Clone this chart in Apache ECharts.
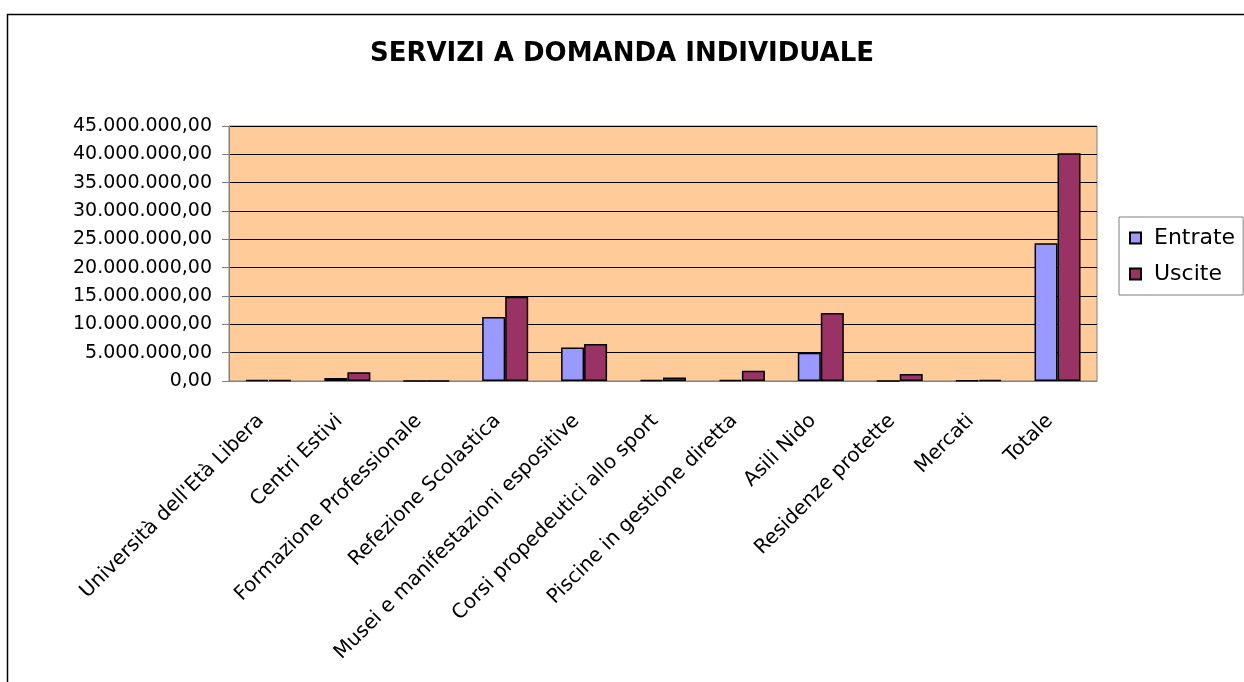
<!DOCTYPE html>
<html>
<head>
<meta charset="utf-8">
<script src="https://cdn.jsdelivr.net/npm/echarts@6/dist/echarts.min.js"></script>
<style>
  html, body { margin: 0; padding: 0; background: #fff; }
  #chart { width: 1244px; height: 682px; }
</style>
</head>
<body>
<div id="chart"></div>
<script>
const categories = [
  'Università dell\'Età Libera',
  'Centri Estivi',
  'Formazione Professionale',
  'Refezione Scolastica',
  'Musei e manifestazioni espositive',
  'Corsi propedeutici allo sport',
  'Piscine in gestione diretta',
  'Asili Nido',
  'Residenze protette',
  'Mercati',
  'Totale'
]
const entrate = [150000, 550000, 0, 11300000, 5900000, 150000, 200000, 5000000, 0, 60000, 24300000]
const uscite = [200000, 1550000, 0, 14850000, 6550000, 600000, 1800000, 12000000, 1250000, 200000, 40200000]
const yTicks = { min: 0, max: 45000000, interval: 5000000 }

// formato italiano: 45.000.000,00
function fmt(v) {
  const s = Math.round(v).toString().replace(/\B(?=(\d{3})+(?!\d))/g, '.')
  return s + ',00'
}

const chart = echarts.init(document.getElementById('chart'))
const font = 'DejaVu Sans'

chart.setOption({
  animation: false,
  backgroundColor: '#fff',
  title: {
    text: 'SERVIZI A DOMANDA INDIVIDUALE',
    left: 'center',
    top: 36,
    textStyle: { fontFamily: font, fontWeight: 'bold', fontSize: 26, color: '#000' }
  },
  graphic: [
    {
      type: 'rect',
      shape: { x: 7.5, y: 14.5, width: 1400, height: 900 },
      style: { fill: 'none', stroke: '#000', lineWidth: 1.5 },
      silent: true
    }
  ],
  legend: {
    orient: 'vertical',
    left: 1119,
    top: 217,
    padding: [9, 8, 9, 10],
    itemGap: 12,
    itemWidth: 11,
    itemHeight: 11,
    icon: 'rect',
    borderColor: '#808080',
    borderWidth: 1,
    backgroundColor: '#fff',
    textStyle: { fontFamily: font, fontSize: 22, color: '#000', padding: [0, 0, 0, 8], lineHeight: 24 },
    data: ['Entrate', 'Uscite']
  },
  grid: {
    left: 229,
    right: 147,
    top: 126,
    bottom: 301,
    show: true,
    backgroundColor: '#FFCC99',
    borderColor: '#808080',
    borderWidth: 1
  },
  xAxis: {
    type: 'category',
    data: categories,
    axisLine: { lineStyle: { color: '#808080', width: 1 } },
    axisTick: { length: 6, lineStyle: { color: '#808080' } },
    axisLabel: {
      interval: 0,
      rotate: 45,
      margin: 29,
      padding: [0, 11, 0, 0],
      fontFamily: font,
      fontSize: 20,
      color: '#000'
    }
  },
  yAxis: {
    type: 'value',
    min: yTicks.min,
    max: yTicks.max,
    interval: yTicks.interval,
    axisLine: { show: true, lineStyle: { color: '#808080', width: 1 } },
    axisTick: { show: true, length: 7, lineStyle: { color: '#808080' } },
    axisLabel: { formatter: fmt, fontFamily: font, fontSize: 19, color: '#000', margin: 17 },
    splitLine: { lineStyle: { color: '#000', width: 1 } }
  },
  series: [
    {
      name: 'Entrate',
      type: 'bar',
      data: entrate,
      barWidth: 23,
      barGap: '0%',
      itemStyle: { color: '#9999FF', borderColor: '#000', borderWidth: 1.5 }
    },
    {
      name: 'Uscite',
      type: 'bar',
      data: uscite,
      barWidth: 23,
      itemStyle: { color: '#993366', borderColor: '#000', borderWidth: 1.5 }
    }
  ]
})
</script>
</body>
</html>
